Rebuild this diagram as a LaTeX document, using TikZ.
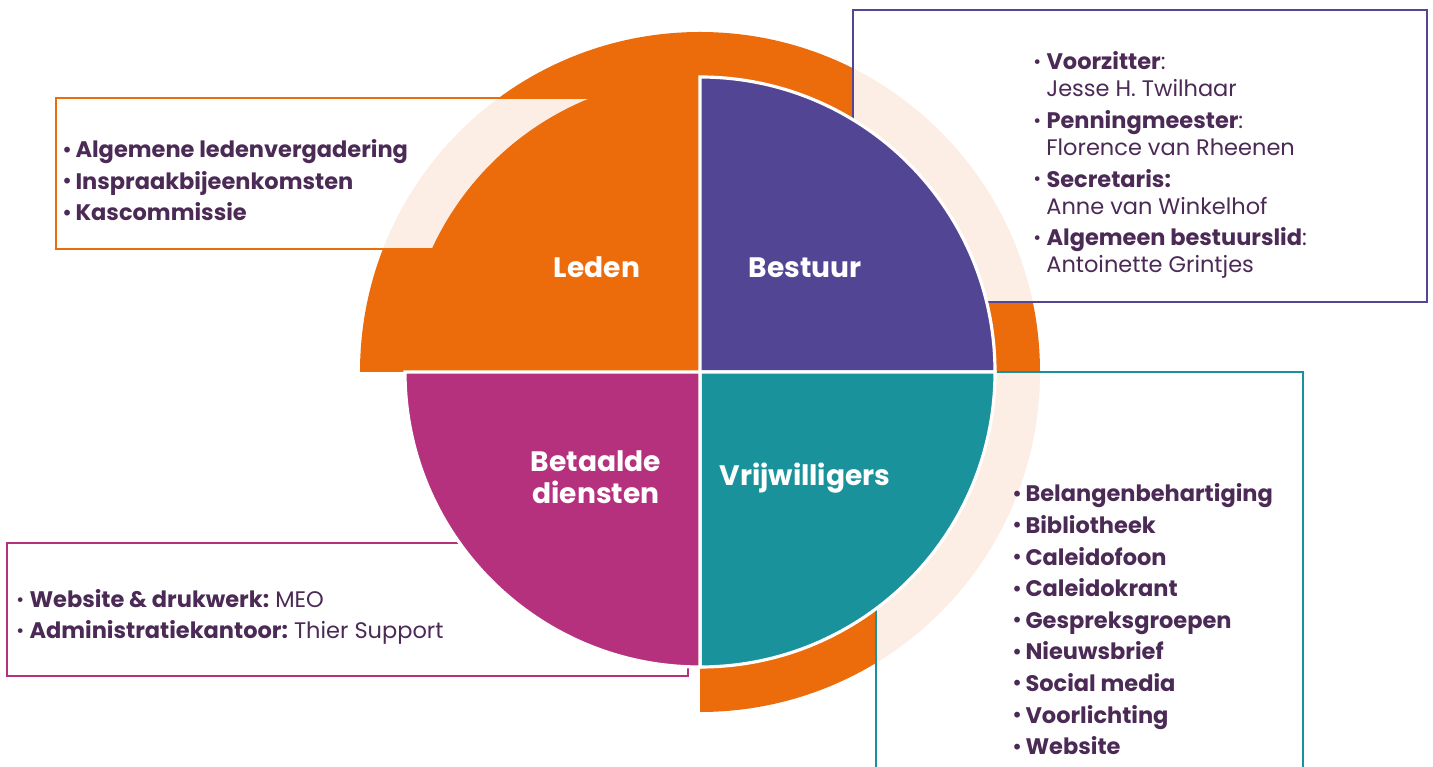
\documentclass[tikz,border=0pt]{standalone}
\usepackage{fontspec}
\setmainfont{Poppins}
\usepackage{graphicx}
\usetikzlibrary{positioning}

\definecolor{oranje}{HTML}{EC6C0B}
\definecolor{paars}{HTML}{524594}
\definecolor{zeegroen}{HTML}{1A929B}
\definecolor{roze}{HTML}{B5317E}
\definecolor{donker}{HTML}{4B2A56}

\newcommand{\opsom}{\makebox[7.5pt][l]{\raisebox{.12ex}{\scalebox{.85}{\textbullet}}}}

\tikzset{
	kader/.style={line width=1.4pt,fill=white,fill opacity=.89},
	kwart/.style={draw=white,line width=1.8pt},
	kop/.style={text=white,font=\fontsize{16}{18}\selectfont\bfseries,align=center},
	punt/.style={anchor=west,inner sep=0pt,text=donker,text height=9pt,text depth=0pt,font=\fontsize{12.8}{16}\selectfont\bfseries},
	naam/.style={punt,font=\fontsize{12.8}{16}\selectfont}
}

\begin{document}
\begin{tikzpicture}[x=0.02cm,y=0.02cm]
	\useasboundingbox (0,0) rectangle (1433,767);
	\clip (0,0) rectangle (1433,767);

	\fill[oranje] (700,395) -- (360,395) arc[start angle=180,end angle=-90,radius=340] -- cycle;

	\draw[kader,draw=oranje] (56,669) rectangle (595,518);
	\draw[kader,draw=paars] (853,757) rectangle (1427,465);
	\draw[kader,draw=zeegroen] (876,395) rectangle (1303,-20);
	\draw[kader,draw=roze] (7,224) rectangle (688,91);

	\fill[oranje] (700,395) -- (700,690) arc[start angle=90,end angle=180,radius=295] -- cycle;
	\foreach \kleur/\hoek in {paars/0,zeegroen/-90,roze/180}
		\filldraw[kwart,fill=\kleur] (700,395) -- ++(\hoek:295) arc[start angle=\hoek,delta angle=90,radius=295] -- cycle;

	\node[kop,anchor=base] (leden) at (597,489) {Leden};
	\node[kop,anchor=base] (bestuur) at (805,489) {Bestuur};
	\node[kop] (betaald) at (596,290) {Betaalde\\diensten};
	\node[kop,anchor=base] (vrijwilligers) at (805,281) {Vrijwilligers};

	\foreach \t [count=\n] in {Algemene ledenvergadering,Inspraakbijeenkomsten,Kascommissie}
		\node[punt] (ld\n) at (62,{617-31.5*(\n-1)}) {\opsom\t};

	\foreach \rol/\wie [count=\n] in {{\textbf{Voorzitter}:}/Jesse H. Twilhaar,{\textbf{Penningmeester}:}/Florence van Rheenen,{\textbf{Secretaris:}}/Anne van Winkelhof,{\textbf{Algemeen bestuurslid}:}/Antoinette Grintjes}
	{
		\node[naam] (rol\n) at (1033,{705-58.7*(\n-1)}) {\opsom\rol};
		\node[naam] (wie\n) at (1046,{678-58.7*(\n-1)}) {\wie};
	}

	\foreach \t [count=\n] in {Belangenbehartiging,Bibliotheek,Caleidofoon,Caleidokrant,Gespreksgroepen,Nieuwsbrief,Social media,Voorlichting,Website}
		\node[punt] (vw\n) at (1012,{273-31.6*(\n-1)}) {\opsom\t};

	\node[naam] (bd1) at (16,167) {\opsom\textbf{Website \& drukwerk:}\hspace{3.5pt}MEO};
	\node[naam] (bd2) at (16,136) {\opsom\textbf{Administratiekantoor:}\hspace{3.5pt}Thier Support};
\end{tikzpicture}
\end{document}
